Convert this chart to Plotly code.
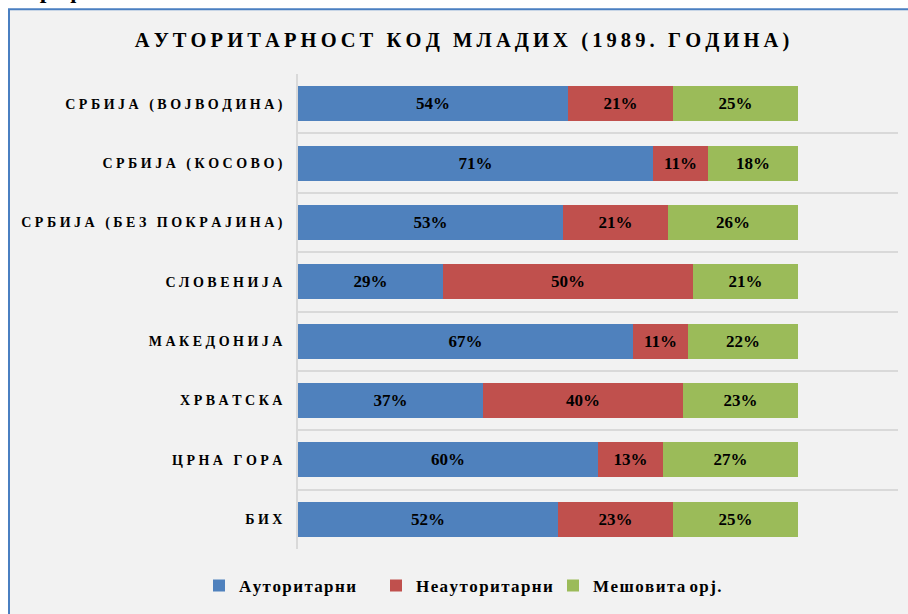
import plotly.graph_objects as go

categories = ["СРБИЈА (ВОЈВОДИНА)", "СРБИЈА (КОСОВО)", "СРБИЈА (БЕЗ ПОКРАЈИНА)",
              "СЛОВЕНИЈА", "МАКЕДОНИЈА", "ХРВАТСКА", "ЦРНА ГОРА", "БИХ"]
authoritarian = [54, 71, 53, 29, 67, 37, 60, 52]
non_authoritarian = [21, 11, 21, 50, 11, 40, 13, 23]
mixed = [25, 18, 26, 21, 22, 23, 27, 25]
series_names = ["Ауторитарни", "Неауторитарни", "Мешовита орј."]
colors = ["#4f81bd", "#c0504d", "#9bbb59"]
title_text = "АУТОРИТАРНОСТ КОД МЛАДИХ (1989. ГОДИНА)"
caption_text = "Графикон 36"


def spaced(s, sp, skip_space=False):
    out = ""
    for i, ch in enumerate(s):
        out += ch
        if i < len(s) - 1:
            nxt = s[i + 1]
            if skip_space and (ch == " " or nxt == " "):
                continue
            out += sp
    return out


W, H = 908, 614
L, R, T, B = 298, 10, 74, 63
pw, ph = W - L - R, H - T - B


def px(x):
    return (x - L) / pw


def py(y):
    return (H - B - y) / ph


serif = "Liberation Serif"
fig = go.Figure()
for name, vals, col in zip(series_names, [authoritarian, non_authoritarian, mixed], colors):
    fig.add_trace(go.Bar(
        y=categories, x=vals, name=spaced(name, "\u200a", True), orientation="h",
        marker=dict(color=col, line=dict(width=0)),
        texttemplate="%{x}%", textposition="inside", insidetextanchor="middle",
        textangle=0,
        textfont=dict(family=serif, size=17, color="black", weight="bold"),
    ))

fig.update_layout(
    width=W, height=H, barmode="stack", bargap=0.41,
    paper_bgcolor="white", plot_bgcolor="rgba(0,0,0,0)",
    margin=dict(l=L, r=R, t=T, b=B, pad=0),
    title=dict(text=spaced(title_text, "\u2009"), x=462 / W, xanchor="center",
               y=1 - 40 / H, yanchor="middle", yref="container",
               font=dict(family=serif, size=20.5, color="black", weight="bold")),
    showlegend=True,
    legend=dict(orientation="h", x=px(199), xanchor="left", y=py(588), yanchor="middle",
                font=dict(family=serif, size=17, color="black", weight="bold"),
                bgcolor="rgba(0,0,0,0)", traceorder="normal", itemwidth=30,
                entrywidth=132, entrywidthmode="pixels"),
    xaxis=dict(range=[0, 120], showgrid=False, showticklabels=False, zeroline=False,
               showline=False, fixedrange=True),
    yaxis=dict(type="category", autorange="reversed", tickson="boundaries",
               showgrid=True, gridcolor="#d9d9d9", gridwidth=1.5,
               showline=True, linecolor="#d9d9d9", linewidth=1.5,
               ticks="", ticklabelstandoff=11, fixedrange=True,
               tickvals=categories, ticktext=[spaced(c, "\u2005") for c in categories],
               tickfont=dict(family=serif, size=14, color="black", weight="bold")),
    shapes=[dict(type="rect", xref="paper", yref="paper",
                 x0=px(9), x1=px(930), y0=py(640), y1=py(9),
                 fillcolor="#f2f2f2", line=dict(color="#4a7fc1", width=2), layer="below")],
    annotations=[dict(text=caption_text, xref="paper", yref="paper", x=px(24), y=py(-10),
                      xanchor="left", yanchor="middle", showarrow=False,
                      font=dict(family=serif, size=24, color="black", weight="bold"))],
)

fig.write_html("out.html", config={"displayModeBar": False},
               post_script="document.body.style.margin='0px';")
